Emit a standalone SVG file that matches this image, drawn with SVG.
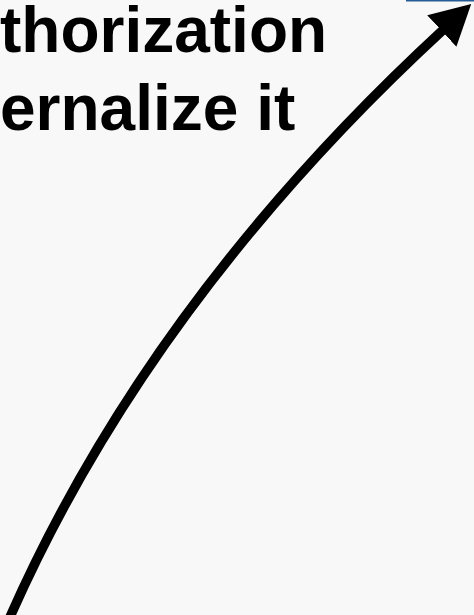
<svg xmlns="http://www.w3.org/2000/svg" width="474" height="615" viewBox="0 0 474 615">
  <style>
    .lbl { font-family: "Liberation Sans", Arial, sans-serif; font-weight: bold; font-size: 64px; fill: #000; }
    .conn { fill: none; stroke: #000; stroke-width: 9.5; }
  </style>
  <defs>
    <marker id="head" viewBox="0 0 40 43" refX="3" refY="21.5" markerWidth="40" markerHeight="43" markerUnits="userSpaceOnUse" orient="auto">
      <path d="M0,0 L40,21.5 L0,43 Z" fill="#000"/>
    </marker>
  </defs>
  <rect x="0" y="0" width="474" height="615" fill="#f8f8f8"/>
  <g id="box-edge">
    <rect x="406" y="0" width="68" height="1.5" fill="#245d95"/>
  </g>
  <g id="label">
    <text class="lbl" x="0" y="52">thorization</text>
    <text class="lbl" x="0" y="130">ernalize it</text>
  </g>
  <g id="connectors">
    <path class="conn" d="M10,617 Q150,300 444,29" marker-end="url(#head)"/>
  </g>
</svg>
